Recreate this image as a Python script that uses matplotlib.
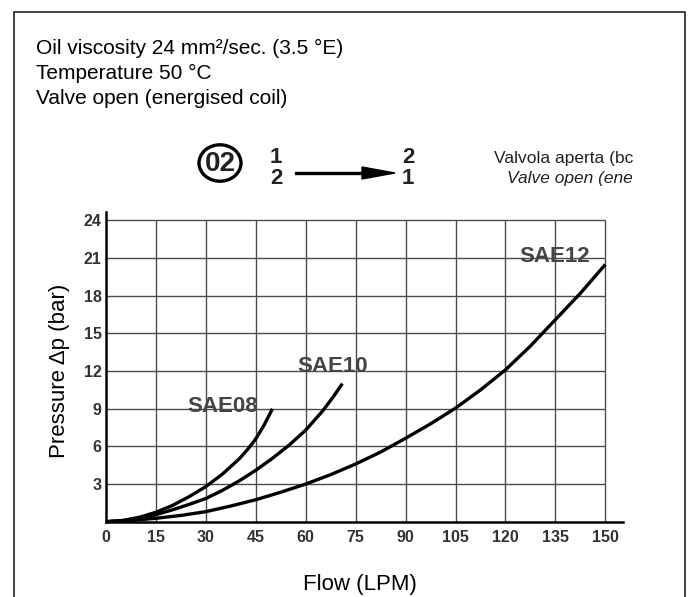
import numpy as np
import matplotlib
matplotlib.use('Agg')
import matplotlib.pyplot as plt
from matplotlib.lines import Line2D
from matplotlib.patches import Circle, Polygon

# data (flow in LPM, pressure drop in bar)
flow_sae08 = [0, 5, 10, 15, 20, 25, 30, 35, 40, 42.5, 45, 47.5, 50]
dp_sae08 = [0, 0.1, 0.35, 0.75, 1.3, 2.0, 2.8, 3.8, 5.0, 5.75, 6.6, 7.7, 9.0]

flow_sae10 = [0, 5, 10, 15, 20, 25, 30, 35, 40, 45, 50, 55, 60, 65, 68, 71]
dp_sae10 = [0, 0.06, 0.25, 0.56, 0.95, 1.38, 1.85, 2.5, 3.25, 4.1, 5.05, 6.1, 7.3, 8.8, 9.85, 11.0]

flow_sae12 = [0, 7.5, 15, 22.5, 30, 37.5, 45, 52.5, 60, 67.5, 75, 82.5, 90,
              97.5, 105, 112.5, 120, 127.5, 135, 142.5, 150]
dp_sae12 = [0, 0.1, 0.27, 0.5, 0.8, 1.25, 1.75, 2.35, 3.0, 3.75, 4.6, 5.55, 6.65,
            7.8, 9.05, 10.5, 12.1, 14.0, 16.1, 18.2, 20.5]

x_ticks = [0, 15, 30, 45, 60, 75, 90, 105, 120, 135, 150]
y_ticks = [3, 6, 9, 12, 15, 18, 21, 24]

W, H = 689, 597
plt.rcParams['font.family'] = ['Liberation Sans', 'DejaVu Sans']

fig = plt.figure(figsize=(W / 100, H / 100), dpi=100)


def fx(px):
    return px / W


def fy(py):
    return 1 - py / H


# outer frame (open at the bottom)
fig.add_artist(Line2D([fx(14), fx(14), fx(685), fx(685)],
                      [0, fy(12), fy(12), 0], color='#222222', lw=1.2))

# header text
fig.text(fx(36), fy(54), 'Oil viscosity 24 mm\u00b2/sec. (3.5 \u00b0E)', fontsize=15, va='baseline')
fig.text(fx(36), fy(79), 'Temperature 50 \u00b0C', fontsize=15, va='baseline')
fig.text(fx(36), fy(104), 'Valve open (energised coil)', fontsize=15, va='baseline')

# valve symbol
dark = '#222222'
fig.add_artist(Circle((fx(220), fy(163)), 21 / W, transform=fig.transFigure,
                      fill=False, lw=2.4, color='black'))
fig.text(fx(220), fy(164), '02', fontweight='bold', fontsize=20,
         ha='center', va='center', color=dark)
fig.text(fx(276), fy(157), '1', fontweight='bold', fontsize=16,
         ha='center', va='center', color=dark)
fig.text(fx(276), fy(178), '2', fontweight='bold', fontsize=16,
         ha='center', va='center', color=dark)
fig.text(fx(408), fy(157), '2', fontweight='bold', fontsize=16,
         ha='center', va='center', color=dark)
fig.text(fx(408), fy(178), '1', fontweight='bold', fontsize=16,
         ha='center', va='center', color=dark)
fig.add_artist(Line2D([fx(296), fx(368)], [fy(173), fy(173)], color='black', lw=2.4))
fig.add_artist(Polygon([[fx(362), fy(167)], [fx(395), fy(173)], [fx(362), fy(179)]],
                       closed=True, transform=fig.transFigure, color='black'))

fig.text(fx(633), fy(159), 'Valvola aperta (bc', fontsize=12.5,
         ha='right', va='center', color=dark)
fig.text(fx(633), fy(179), 'Valve open (ene', fontsize=12.5, style='italic',
         ha='right', va='center', color=dark)

# chart
ax = fig.add_axes([106 / W, 1 - 521.7 / H, 517 / W, 310 / H])
ax.set_xlim(0, 155.3)
ax.set_ylim(0, 24.7)

ax.vlines(x_ticks[1:], 0, 24, color='#4d4d4d', lw=1)
ax.hlines(y_ticks, 0, 150, color='#4d4d4d', lw=1)

for fl, dp in [(flow_sae08, dp_sae08), (flow_sae10, dp_sae10), (flow_sae12, dp_sae12)]:
    ax.plot(fl, dp, color='black', lw=2.4, solid_capstyle='butt', solid_joinstyle='round')

lab = dict(fontweight='bold', fontsize=16, color='#444444',
           ha='center', va='center')
ax.text(35, 9.2, 'SAE08', **lab)
ax.text(68.2, 12.4, 'SAE10', **lab)
ax.text(134.8, 21.1, 'SAE12', **lab)

ax.set_xticks(x_ticks)
ax.set_yticks(y_ticks)
ax.set_xticklabels([str(v) for v in x_ticks], fontweight='bold',
                   fontsize=11.5, color='#333333')
ax.set_yticklabels([str(v) for v in y_ticks], fontweight='bold',
                   fontsize=11.5, color='#333333')
ax.tick_params(length=0)
ax.tick_params(axis='x', pad=6)
ax.tick_params(axis='y', pad=3)

for s in ['top', 'right']:
    ax.spines[s].set_visible(False)
ax.spines['left'].set_linewidth(1.8)
ax.spines['bottom'].set_linewidth(1.8)

fig.text(fx(360), fy(590), 'Flow (LPM)', fontsize=16, ha='center', va='baseline')
fig.text(fx(60), fy(371), 'Pressure \u0394p (bar)', fontsize=16, rotation=90,
         ha='center', va='center')

fig.savefig('out.png', dpi=100)
